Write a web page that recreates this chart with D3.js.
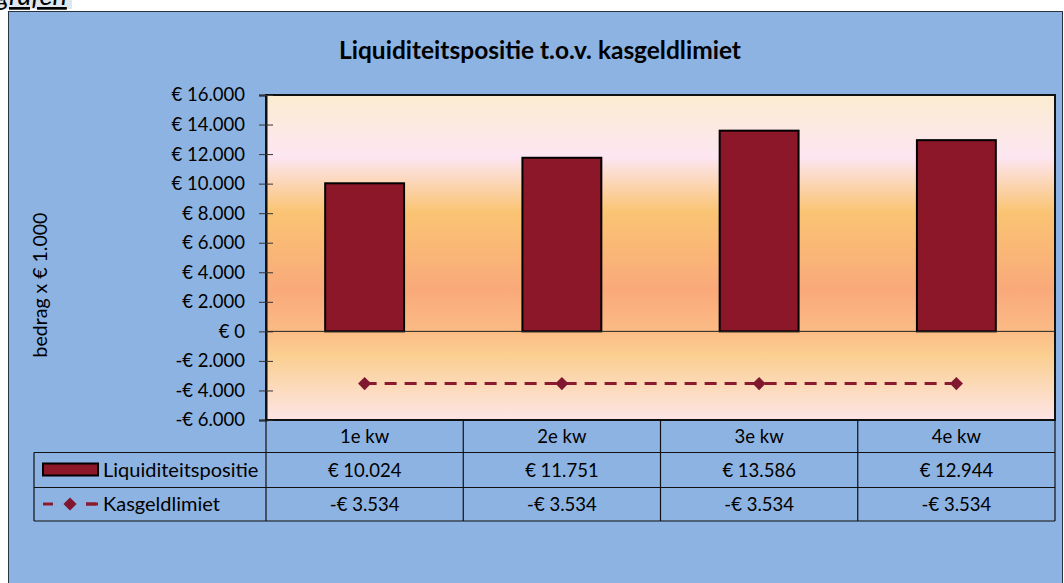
<!DOCTYPE html>
<html>
<head>
<meta charset="utf-8">
<script src="https://cdn.jsdelivr.net/npm/d3@7"></script>
<style>
  body { margin: 0; background: #fff; overflow: hidden; }
  svg { display: block; font-family: Lato, "Open Sans", sans-serif; }
</style>
</head>
<body>
<script>
var kwartalen = ["1e kw", "2e kw", "3e kw", "4e kw"];
var liquiditeit = [10024, 11751, 13586, 12944];
var kasgeldlimiet = [-3534, -3534, -3534, -3534];
var yTicks = [-6000, -4000, -2000, 0, 2000, 4000, 6000, 8000, 10000, 12000, 14000, 16000];

var W = 1064, H = 583;
var plot = { left: 266, top: 95, right: 1055, bottom: 420 };

var nl = d3.formatLocale({ decimal: ",", thousands: ".", grouping: [3], currency: ["€ ", ""] });
var fmt = function (v) {
  var s = nl.format(",.0f")(Math.abs(v));
  return (v < 0 ? "-€ " : "€ ") + s;
};

var svg = d3.select("body").append("svg").attr("width", W).attr("height", H);

// kopje uit document
svg.append("rect").attr("x", 0).attr("y", 0).attr("width", 72).attr("height", 9).attr("fill", "#dfe6ee");
svg.append("text").attr("x", -4).attr("y", 5).attr("font-size", 27).attr("font-style", "italic")
  .attr("text-decoration", "underline").attr("fill", "#000").text("grafen");

// grafiekvlak
svg.append("rect").attr("x", 8.5).attr("y", 11.5).attr("width", 1054).attr("height", 600)
  .attr("fill", "#8db3e2").attr("stroke", "#2b3340").attr("stroke-width", 1);

svg.append("text").attr("x", 540).attr("y", 59).attr("text-anchor", "middle")
  .attr("font-size", 24.5).attr("font-weight", "bold").text("Liquiditeitspositie t.o.v. kasgeldlimiet");

var x = d3.scaleBand().domain(kwartalen).range([plot.left, plot.right]);
var y = d3.scaleLinear().domain([-6000, 16000]).range([plot.bottom, plot.top]);

var defs = svg.append("defs");
var grad = defs.append("linearGradient").attr("id", "bg").attr("x1", 0).attr("y1", 0).attr("x2", 0).attr("y2", 1);
[[0, "#fbecd0"], [0.19, "#fde6f2"], [0.36, "#fac473"], [0.6, "#f9a97a"], [0.72, "#fbba85"], [0.8, "#fbcf90"], [1, "#fde5e6"]]
  .forEach(function (s) { grad.append("stop").attr("offset", s[0]).attr("stop-color", s[1]); });

svg.append("rect").attr("x", plot.left).attr("y", plot.top)
  .attr("width", plot.right - plot.left).attr("height", plot.bottom - plot.top)
  .attr("fill", "url(#bg)").attr("stroke", "#111").attr("stroke-width", 2);

// y-as
var yAxis = d3.axisLeft(y).tickValues(yTicks).tickSize(7).tickFormat(fmt);
var ya = svg.append("g").attr("transform", "translate(" + plot.left + ",0)").call(yAxis);
ya.select(".domain").attr("stroke", "#111").attr("stroke-width", 2);
ya.selectAll(".tick line").attr("x2", 7).attr("x1", -7).attr("stroke", "#333");
ya.selectAll(".tick text").attr("x", -21).attr("font-size", 18.5).attr("fill", "#000")
  .attr("font-family", "Lato, sans-serif");

svg.append("text").attr("transform", "translate(47,285) rotate(-90)").attr("text-anchor", "middle")
  .attr("font-size", 19.5).text("bedrag x € 1.000");

// staven
svg.selectAll("rect.bar").data(liquiditeit).enter().append("rect").attr("class", "bar")
  .attr("x", function (d, i) { return x(kwartalen[i]) + x.bandwidth() * 0.3; })
  .attr("width", x.bandwidth() * 0.4)
  .attr("y", function (d) { return y(d); })
  .attr("height", function (d) { return y(0) - y(d); })
  .attr("fill", "#8b1728").attr("stroke", "#000").attr("stroke-width", 2);

svg.append("line").attr("x1", plot.left).attr("x2", plot.right).attr("y1", y(0)).attr("y2", y(0))
  .attr("stroke", "#222").attr("stroke-width", 1);

// kasgeldlimiet lijn
var line = d3.line()
  .x(function (d, i) { return x(kwartalen[i]) + x.bandwidth() / 2; })
  .y(function (d) { return y(d); });
svg.append("path").datum(kasgeldlimiet).attr("d", line).attr("fill", "none")
  .attr("stroke", "#8b1a2e").attr("stroke-width", 3).attr("stroke-dasharray", "12,8");
var diamond = d3.symbol().type(d3.symbolDiamond2).size(110);
svg.selectAll("path.mk").data(kasgeldlimiet).enter().append("path").attr("class", "mk")
  .attr("d", diamond)
  .attr("transform", function (d, i) { return "translate(" + (x(kwartalen[i]) + x.bandwidth() / 2) + "," + y(d) + ")"; })
  .attr("fill", "#7f1730");

// gegevenstabel
var rows = [plot.bottom, 452.5, 487.5, 521];
var tbl = svg.append("g").attr("stroke", "#111").attr("stroke-width", 1.2);
tbl.append("line").attr("x1", plot.left).attr("x2", plot.right).attr("y1", rows[0]).attr("y2", rows[0]);
[1, 2, 3].forEach(function (r) {
  tbl.append("line").attr("x1", 34).attr("x2", plot.right).attr("y1", rows[r]).attr("y2", rows[r]);
});
tbl.append("line").attr("x1", 34).attr("x2", 34).attr("y1", rows[1]).attr("y2", rows[3]);
kwartalen.forEach(function (k) {
  tbl.append("line").attr("x1", x(k)).attr("x2", x(k)).attr("y1", rows[0]).attr("y2", rows[3]);
});
tbl.append("line").attr("x1", plot.right).attr("x2", plot.right).attr("y1", rows[0]).attr("y2", rows[3]);

var series = [liquiditeit.map(fmt), kasgeldlimiet.map(fmt)];
kwartalen.forEach(function (k, i) {
  var cx = x(k) + x.bandwidth() / 2;
  svg.append("text").attr("x", cx).attr("y", 443).attr("text-anchor", "middle").attr("font-size", 18.5).text(k);
  svg.append("text").attr("x", cx).attr("y", 477).attr("text-anchor", "middle").attr("font-size", 18.5).text(series[0][i]);
  svg.append("text").attr("x", cx).attr("y", 511).attr("text-anchor", "middle").attr("font-size", 18.5).text(series[1][i]);
});

// legenda in tabel
svg.append("rect").attr("x", 43).attr("y", 463.5).attr("width", 55).attr("height", 12)
  .attr("fill", "#8b1728").attr("stroke", "#000").attr("stroke-width", 2);
svg.append("text").attr("x", 103).attr("y", 477).attr("font-size", 20).text("Liquiditeitspositie");
svg.append("path").attr("d", "M43,504H98").attr("stroke", "#8b1a2e").attr("stroke-width", 3)
  .attr("stroke-dasharray", "10,33");
svg.append("path").attr("d", "M86,504H98").attr("stroke", "#8b1a2e").attr("stroke-width", 3);
svg.append("path").attr("d", diamond).attr("transform", "translate(70,504)").attr("fill", "#7f1730");
svg.append("text").attr("x", 103).attr("y", 511).attr("font-size", 20).text("Kasgeldlimiet");
</script>
</body>
</html>
